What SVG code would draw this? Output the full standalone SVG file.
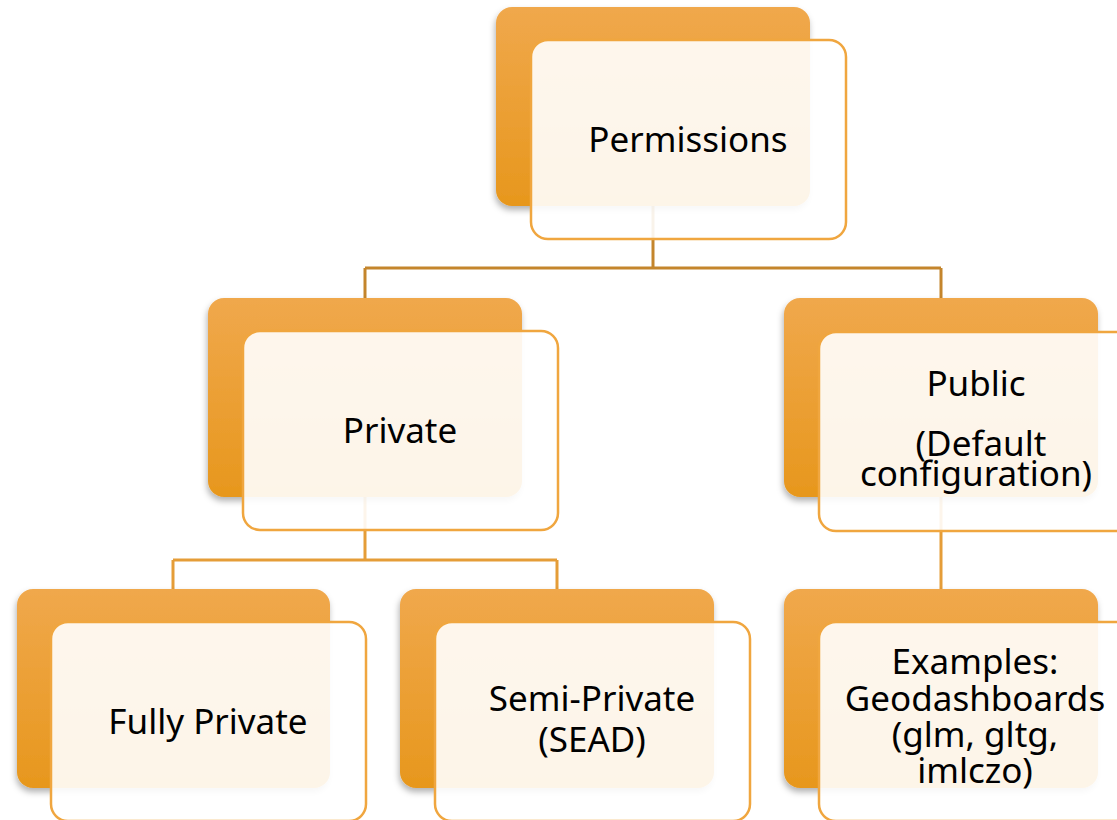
<svg xmlns="http://www.w3.org/2000/svg" width="1117" height="820" viewBox="0 0 1117 820">
<defs>
<linearGradient id="og" x1="0" y1="0" x2="0" y2="1">
<stop offset="0" stop-color="#F0A84C"/>
<stop offset="1" stop-color="#E7971D"/>
</linearGradient>
<filter id="sh" x="-10%" y="-10%" width="120%" height="125%">
<feDropShadow dx="-1" dy="4" stdDeviation="3" flood-color="#000" flood-opacity="0.3"/>
</filter>
</defs>
<style>
.back{fill:url(#og);filter:url(#sh)}
.front{fill:#fff;fill-opacity:0.9;stroke:#F0A63F;stroke-width:2.5}
.t{font-family:"Noto Sans","Open Sans",sans-serif;font-size:35px;fill:#000;text-anchor:middle}
.c1{fill:none;stroke:#C4852C;stroke-width:3}
.c2{fill:none;stroke:#E59D38;stroke-width:3}
</style>
<rect width="1117" height="820" fill="#fff"/>
<g id="connectors">
<path class="c1" d="M653 205 V268 M365 268 H941 M365 268 V298 M941 268 V298"/>
<path class="c2" d="M365 497 V560 M173 560 H557 M173 560 V589 M557 560 V589 M941 497 V589"/>
</g>
<g id="permissions">
<rect class="back" x="496" y="7" width="314" height="199" rx="16"/>
<rect class="front" x="531" y="40" width="315" height="199" rx="17"/>
<text class="t" x="688" y="152">Permissions</text>
</g>
<g id="private">
<rect class="back" x="208" y="298" width="314" height="199" rx="16"/>
<rect class="front" x="243" y="331" width="315" height="199" rx="17"/>
<text class="t" x="400" y="443">Private</text>
</g>
<g id="public">
<rect class="back" x="784" y="298" width="314" height="199" rx="16"/>
<rect class="front" x="819" y="332" width="315" height="199" rx="17"/>
<text class="t" x="976" y="396">Public<tspan x="981" dy="60">(Default</tspan><tspan x="976" dy="30">configuration)</tspan></text>
</g>
<g id="fully-private">
<rect class="back" x="17" y="589" width="313" height="199" rx="16"/>
<rect class="front" x="51" y="622" width="315" height="199" rx="17"/>
<text class="t" x="208" y="734">Fully Private</text>
</g>
<g id="semi-private">
<rect class="back" x="400" y="589" width="314" height="199" rx="16"/>
<rect class="front" x="435" y="622" width="315" height="199" rx="17"/>
<text class="t" x="592" y="711">Semi-Private<tspan x="592" dy="41">(SEAD)</tspan></text>
</g>
<g id="examples">
<rect class="back" x="784" y="589" width="314" height="199" rx="16"/>
<rect class="front" x="819" y="622" width="315" height="199" rx="17"/>
<text class="t" x="975" y="674">Examples:<tspan x="975" dy="37">Geodashboards</tspan><tspan x="975" dy="36">(glm, gltg,</tspan><tspan x="975" dy="36">imlczo)</tspan></text>
</g>
</svg>
